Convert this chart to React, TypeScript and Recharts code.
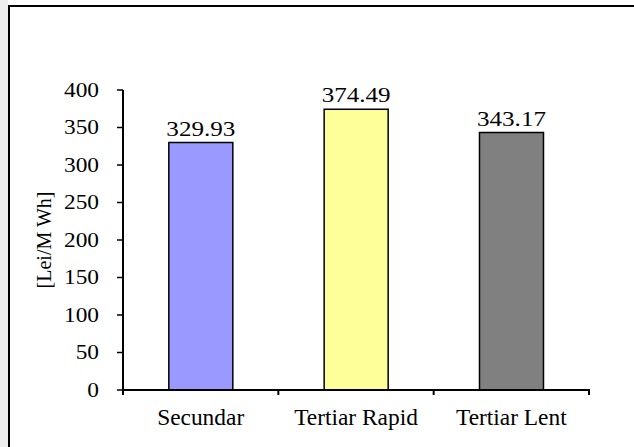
import { Bar, BarChart, Cell, LabelList, XAxis, YAxis } from "recharts";

const categories = ["Secundar", "Tertiar Rapid", "Tertiar Lent"];
const prices = [329.93, 374.49, 343.17];
const barColors = ["#9999ff", "#ffff99", "#808080"];
const yTicks = [0, 50, 100, 150, 200, 250, 300, 350, 400];
const unitLabel = "[Lei/M Wh]";

const data = categories.map((name, i) => ({ name, price: prices[i] }));

const FONT = "'Liberation Serif', 'Times New Roman', serif";

function YTick({ x, y, payload }: any) {
  return (
    <text
      transform={`translate(${x - 18},${y}) scale(1.14,1)`}
      textAnchor="end"
      dy="0.34em"
      fontFamily={FONT}
      fontSize={20.5}
      fill="#000"
    >
      {payload.value}
    </text>
  );
}

// label under each bar plus the small tick marks on the category boundaries
function XTick({ x, y, payload, index, visibleTicksCount, width }: any) {
  const half = payload.offset > 0 ? payload.offset : width / visibleTicksCount / 2;
  const last = index === visibleTicksCount - 1;
  const axisY = y - 1;
  return (
    <g>
      <line x1={x - half} x2={x - half} y1={axisY} y2={axisY + 6} stroke="#000" strokeWidth={2} />
      {last && <line x1={x + half} x2={x + half} y1={axisY} y2={axisY + 6} stroke="#000" strokeWidth={2} />}
      <text
        transform={`translate(${x},${y + 35}) scale(1.04,1)`}
        textAnchor="middle"
        fontFamily={FONT}
        fontSize={22.5}
        fill="#000"
      >
        {payload.value}
      </text>
    </g>
  );
}

function ValueLabel({ x, y, width, value }: any) {
  return (
    <text
      transform={`translate(${x + width / 2},${y - 7}) scale(1.14,1)`}
      textAnchor="middle"
      fontFamily={FONT}
      fontSize={22}
      fill="#000"
    >
      {Number(value).toFixed(2)}
    </text>
  );
}

function UnitLabel({ viewBox }: any) {
  const cx = viewBox.x + 44;
  const cy = viewBox.y + viewBox.height / 2;
  return (
    <text
      transform={`translate(${cx},${cy}) rotate(-90)`}
      textAnchor="middle"
      dominantBaseline="central"
      fontFamily={FONT}
      fontSize={20}
      fill="#000"
    >
      {unitLabel}
    </text>
  );
}

export default function App() {
  return (
    <div style={{ position: "relative", width: 634, height: 447, overflow: "hidden", background: "#fff" }}>
      <style>{"body{margin:0;overflow:hidden}"}</style>
      <div style={{ position: "absolute", left: 0, top: 0, width: 8, height: 447, background: "#eeeeee" }} />
      <div
        style={{
          position: "absolute",
          left: 8,
          top: 5,
          width: 700,
          height: 500,
          borderTop: "2px solid #000",
          borderLeft: "2px solid #000",
        }}
      />
      <div style={{ position: "absolute", left: 0, top: 0 }}>
        <BarChart
          width={634}
          height={447}
          data={data}
          margin={{ top: 90, right: 45, bottom: 27, left: 0 }}
          barCategoryGap="29.5%"
        >
          <XAxis
            dataKey="name"
            height={30}
            interval={0}
            axisLine={{ stroke: "#000", strokeWidth: 2 }}
            tickLine={false}
            tickSize={0}
            tickMargin={0}
            tick={<XTick />}
          />
          <YAxis
            domain={[0, 400]}
            ticks={yTicks}
            interval={0}
            width={123}
            tickSize={6}
            tickMargin={0}
            axisLine={{ stroke: "#000", strokeWidth: 2 }}
            tickLine={{ stroke: "#000", strokeWidth: 1.5 }}
            tick={<YTick />}
            label={{ content: <UnitLabel /> }}
          />
          <Bar dataKey="price" stroke="#000" strokeWidth={1.5} isAnimationActive={false}>
            {data.map((d, i) => (
              <Cell key={d.name} fill={barColors[i]} />
            ))}
            <LabelList dataKey="price" content={<ValueLabel />} />
          </Bar>
        </BarChart>
      </div>
    </div>
  );
}
